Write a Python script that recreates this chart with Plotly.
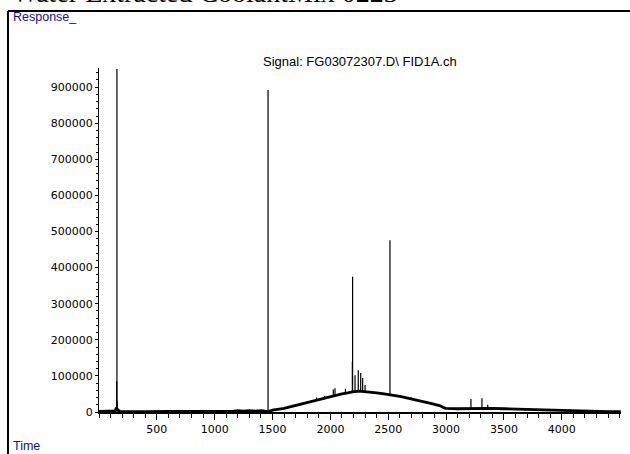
import plotly.graph_objects as go

# Baseline / hump of the chromatogram (time, response)
base_time = [0, 50, 100, 140, 150, 165, 180, 250, 400, 600, 800, 1000, 1150, 1200, 1250,
             1300, 1350, 1400, 1440, 1455, 1465, 1500, 1550, 1600, 1650, 1700, 1750, 1800,
             1850, 1900, 1950, 2000, 2050, 2100, 2150, 2190, 2250, 2300, 2350, 2400, 2450,
             2500, 2550, 2600, 2650, 2700, 2750, 2800, 2850, 2900, 2950, 2980, 3000, 3100,
             3200, 3300, 3400, 3500, 3600, 3700, 3800, 3900, 4000, 4100, 4200, 4300, 4400, 4510]
base_resp = [1500, 1500, 1800, 3000, 12000, 5000, 2000, 1500, 1000, 1500, 1000, 1200, 2000,
             4000, 2500, 3500, 2500, 4000, 3000, 2000, 1000, 5000, 7000, 10000, 14000, 18000,
             22000, 26000, 31000, 36000, 40000, 44000, 47000, 50000, 53000, 56000, 58000,
             57000, 55000, 53000, 51000, 49000, 46000, 43000, 40000, 37000, 33000, 29000,
             25000, 21000, 17000, 12000, 10000, 9000, 10000, 11000, 10000, 9000, 8000, 6000,
             5000, 4000, 3000, 2500, 2000, 1500, 1000, 800]

# Peaks (apex time, apex response, response at foot)
peak_time = [153, 155, 158, 1461, 1880, 1950, 2025, 2040, 2130, 2190, 2192, 2213, 2241,
             2262, 2279, 2300, 2515, 2600, 2700, 3215, 3310, 3360]
peak_resp = [85000, 950000, 30000, 892000, 40000, 45000, 62000, 66000, 64000, 139000, 375000,
             102000, 116000, 108000, 94000, 75000, 476000, 47000, 40000, 36000, 38000, 20000]
peak_foot = [2000, 2000, 2000, 1000, 34000, 40000, 45000, 46000, 51000, 56000, 56000, 57000,
             57000, 57000, 57000, 57000, 49000, 43000, 37000, 10000, 11000, 10500]

x_ticks = [500, 1000, 1500, 2000, 2500, 3000, 3500, 4000]
y_ticks = [0, 100000, 200000, 300000, 400000, 500000, 600000, 700000, 800000, 900000]

W, H = 630, 454

def px(v):
    return v / W

def py(v):
    return (H - v) / H

spike_x, spike_y = [], []
for t, r, f in zip(peak_time, peak_resp, peak_foot):
    spike_x += [t, t, None]
    spike_y += [f, r, None]

fig = go.Figure()
fig.add_trace(go.Scatter(x=base_time, y=base_resp, mode="lines",
                         line=dict(color="black", width=2.8), hoverinfo="skip"))
fig.add_trace(go.Scatter(x=spike_x, y=spike_y, mode="lines",
                         line=dict(color="black", width=1.2), hoverinfo="skip"))

tickfont = dict(family="DejaVu Sans, Arial, sans-serif", size=11, color="black")

fig.update_layout(
    width=W, height=H,
    margin=dict(l=0, r=0, t=0, b=0, pad=0, autoexpand=False),
    paper_bgcolor="white", plot_bgcolor="white",
    showlegend=False,
    xaxis=dict(domain=[px(99), px(621)], range=[0, 4512], showgrid=False, zeroline=False,
               automargin=False,
               showline=True, linecolor="black", linewidth=1.5,
               ticks="outside", ticklen=6, tickcolor="black", tickwidth=1,
               tickvals=x_ticks, ticktext=[str(v) for v in x_ticks], tickfont=tickfont,
               minor=dict(dtick=100, ticks="outside", ticklen=4, tickcolor="black", tickwidth=1)),
    yaxis=dict(domain=[py(412), py(68)], range=[0, 953000], showgrid=False, zeroline=False,
               automargin=False,
               showline=True, linecolor="black", linewidth=1,
               ticks="outside", ticklen=3, tickcolor="black", tickwidth=1,
               tickvals=y_ticks, ticktext=[str(v) for v in y_ticks], tickfont=tickfont,
               minor=dict(dtick=20000, ticks="outside", ticklen=2, tickcolor="black", tickwidth=1)),
    shapes=[
        dict(type="line", xref="paper", yref="paper", x0=px(8), x1=1, y0=py(11), y1=py(11),
             line=dict(color="black", width=2)),
        dict(type="line", xref="paper", yref="paper", x0=px(8), x1=px(8), y0=py(11), y1=0,
             line=dict(color="black", width=2)),
    ],
    annotations=[
        dict(text="Water Extracted CoolantMix 0223", xref="paper", yref="paper",
             x=px(10), y=py(10), xanchor="left", yanchor="bottom", showarrow=False,
             font=dict(family="Liberation Serif, Times New Roman, serif", size=28, color="black")),
        dict(text="Response_", xref="paper", yref="paper", x=px(11), y=py(17),
             xanchor="left", yanchor="middle", showarrow=False,
             font=dict(family="Liberation Sans, Arial, sans-serif", size=12.5, color="#12128c")),
        dict(text="Time", xref="paper", yref="paper", x=px(11), y=py(446),
             xanchor="left", yanchor="middle", showarrow=False,
             font=dict(family="Liberation Sans, Arial, sans-serif", size=12.5, color="#12128c")),
        dict(text="Signal: FG03072307.D\\ FID1A.ch", xref="paper", yref="paper",
             x=px(360), y=py(62), xanchor="center", yanchor="middle", showarrow=False,
             font=dict(family="Liberation Sans, Arial, sans-serif", size=13, color="black")),
    ],
)

fig.write_html("out.html", config={"displayModeBar": False},
               post_script="document.body.style.margin='0';document.body.style.overflow='hidden';")
